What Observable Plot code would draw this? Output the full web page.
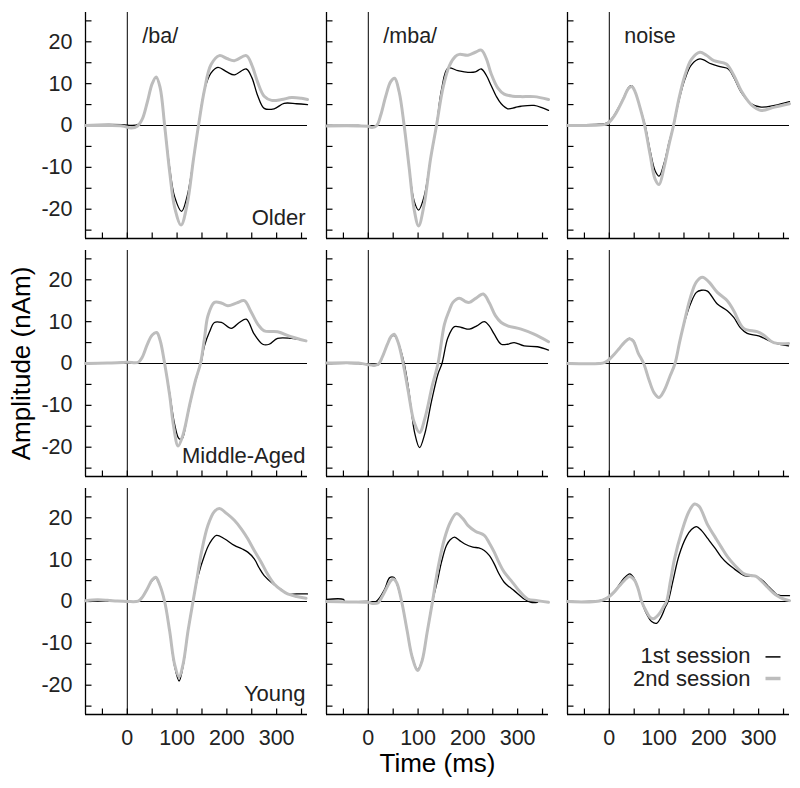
<!DOCTYPE html>
<html><head><meta charset="utf-8">
<script src="https://cdn.jsdelivr.net/npm/d3@7"></script>
<script src="https://cdn.jsdelivr.net/npm/@observablehq/plot@0.6"></script>
<style>body{margin:0;background:#fff} svg{display:block}</style>
</head><body><div id="chart"></div>
<script>
// ---- categories, ticks ----
const stimuli = ["/ba/", "/mba/", "noise"];
const groups = ["Older", "Middle-Aged", "Young"];
const sessions = ["1st session", "2nd session"];
const xDomain = [-84, 362];
const yDomain = [-27, 27];
const xTicks = [-50, 0, 50, 100, 150, 200, 250, 300, 350];
const yTicks = [-25, -20, -15, -10, -5, 0, 5, 10, 15, 20, 25];
const xLabels = [0, 100, 200, 300];
const yLabels = [-20, -10, 0, 10, 20];

// ---- series values: [time (ms), amplitude (nAm)] ----
const baOlder1 = [[-84,0.2],[-10,0.2],[10,0],[22,0.3],[30,1.5],[40,5.5],[50,10],[58,11.5],[66,9],[75,0],[85,-10],[95,-17],[109,-20.5],[120,-17],[133,-8],[143,0],[155,8.5],[168,12.5],[182,13.9],[200,12.8],[215,12.1],[239,13.5],[250,11.5],[262,7.1],[275,4.1],[295,4],[315,5.3],[340,5.2],[362,5]];
const baOlder2 = [[-84,0],[-40,0],[-10,-0.1],[8,-0.6],[20,-0.2],[30,1.5],[40,5.5],[50,10],[58,11.6],[66,9],[75,0],[85,-11],[95,-19.5],[108,-23.8],[120,-19],[133,-8],[143,0],[155,8.5],[168,14.5],[185,16.7],[200,16],[215,15.5],[239,16.7],[250,14.5],[262,10.3],[275,7],[290,6],[310,6.2],[330,6.7],[350,6.5],[362,6.2]];
const mbaOlder1 = [[-84,0],[-20,0],[0,-0.1],[8,-0.4],[17,0],[25,2.5],[35,7],[45,10.5],[53,11.3],[62,8],[72,0],[82,-10],[92,-18],[101,-20.2],[112,-17],[125,-8],[137,0],[147,8.5],[160,13.7],[180,13.1],[200,12.7],[215,12.8],[227,13.5],[237,12],[247,9.5],[257,7],[267,5.2],[280,4],[295,4.3],[307,4.6],[333,4.8],[350,4.2],[362,3.6]];
const mbaOlder2 = [[-84,-0.1],[-20,-0.1],[0,-0.2],[8,-0.5],[17,0],[25,2.5],[35,7],[45,10.5],[53,11.3],[62,8],[72,0],[82,-10],[92,-20],[101,-24],[112,-19],[125,-8],[137,0],[150,9],[163,14.3],[175,16.5],[183,17],[200,16.8],[215,17.5],[227,18],[237,16],[247,12.3],[260,9],[273,7.5],[290,7],[307,6.9],[333,6.9],[362,6.2]];
const noiseOlder1 = [[-84,0.2],[-20,0.3],[-5,0.6],[0,1],[10,2.5],[20,4.6],[30,7],[38,9],[45,9.5],[52,8],[60,5],[72,0],[82,-6],[92,-10.8],[100,-12.1],[110,-9],[120,-4],[129,0],[140,6],[152,11.1],[165,14.5],[182,15.9],[205,14.7],[225,14],[239,13.5],[250,11.5],[265,7.9],[285,5.2],[305,4.4],[332,4.8],[362,5.7]];
const noiseOlder2 = [[-84,0],[-20,0.1],[-5,0.4],[0,0.8],[10,2.3],[20,4.4],[30,6.8],[38,8.8],[45,9.3],[52,8],[60,5],[71,0],[82,-7],[92,-12.8],[100,-14.1],[110,-10],[120,-4.5],[129,0],[140,6.5],[152,12],[165,15.8],[182,17.5],[195,16.8],[210,15.5],[235,14.7],[250,12],[265,8.3],[285,5],[305,3.6],[332,4.4],[362,5.2]];
const baMiddle1 = [[-84,0],[-40,0.1],[0,0.3],[22,0.3],[30,1.5],[40,4.5],[50,6.8],[59,7.4],[66,5.5],[75,0],[85,-7],[95,-14.5],[104,-18],[110,-18],[120,-13],[133,-6],[145,-1],[149,0.6],[155,4.2],[165,7.5],[175,9.8],[189,9.8],[209,8.4],[225,9.8],[239,10.6],[255,7],[272,4.6],[285,4.6],[302,6],[329,6],[359,5.4]];
const baMiddle2 = [[-84,0],[-40,0.1],[0,0.3],[22,0.3],[30,1.5],[40,4.5],[50,6.8],[59,7.4],[66,5.5],[75,0],[85,-7.5],[93,-15],[102,-19.7],[112,-17],[125,-10],[137,-4],[147,0],[155,6],[162,11.4],[175,14.6],[190,14.4],[202,13.8],[220,14.5],[235,15],[248,12.5],[262,9.4],[275,7.8],[302,7.6],[329,6.4],[359,5.4]];
const mbaMiddle1 = [[-84,0],[-20,0],[0,-0.3],[10,-0.5],[20,-0.3],[28,1.5],[38,4.5],[46,6.3],[52,6.7],[60,5],[72,0],[82,-7],[93,-16.5],[103,-20.1],[113,-17],[127,-9],[140,-2.5],[148,0],[160,6.2],[173,8.8],[187,8.6],[203,8.2],[218,9],[233,10],[243,9],[253,7],[267,4.6],[280,4.6],[293,5],[313,4.2],[340,4],[362,3.2]];
const mbaMiddle2 = [[-84,0.1],[-20,0.1],[0,-0.3],[10,-0.4],[20,-0.2],[28,1.5],[38,4.5],[46,6.5],[52,7],[60,5],[70,0],[80,-6.5],[92,-14],[103,-16.5],[115,-12.5],[128,-5.5],[140,0],[153,9.4],[162,12.5],[170,14.6],[183,15.6],[195,14.8],[203,14.6],[215,15.5],[231,16.6],[243,14.5],[255,11.5],[267,9.8],[280,9],[307,8.2],[333,7],[362,5.2]];
const noiseMiddle1 = [[-84,0],[-20,0],[-10,0.2],[0,1],[10,2.2],[20,3.6],[30,5],[40,6],[48,5.5],[58,2.5],[69,0],[80,-4],[90,-7],[100,-8.1],[110,-6.5],[122,-3],[132,0],[141,5],[150,9.4],[163,14.2],[175,17],[185,17.5],[197,17.3],[217,14.2],[237,12.6],[250,11],[263,8.6],[277,7.2],[300,6.6],[330,5],[360,4.2]];
const noiseMiddle2 = [[-84,0],[-20,0],[-10,0.2],[0,1],[10,2.2],[20,3.6],[30,5],[40,5.9],[48,5.4],[58,2.5],[69,0],[80,-4],[90,-7],[100,-8.1],[110,-6.5],[122,-3],[132,0],[141,5],[150,9.6],[163,15.8],[175,19.5],[187,20.6],[200,19.5],[217,17],[237,15],[250,12.6],[270,8.4],[297,7.6],[310,6.8],[330,5],[360,4.8]];
const baYoung1 = [[-84,0.2],[-60,0.4],[-40,0.3],[-20,0.1],[0,0],[22,0.1],[30,1],[40,3],[50,5],[57,5.6],[65,4],[75,0],[85,-7],[95,-15.5],[104,-19],[112,-15.5],[122,-7],[132,0],[142,6],[155,11],[165,13.8],[179,15.8],[195,15],[215,13.4],[230,12.6],[242,11.8],[255,10.2],[265,8],[275,6.2],[295,4],[310,2.8],[322,1.8],[340,1.8],[362,1.8]];
const baYoung2 = [[-84,0.2],[-60,0.4],[-40,0.3],[-20,0.1],[0,0],[22,0.1],[30,1],[40,3],[50,5.2],[57,5.8],[65,4],[75,0],[85,-7],[95,-15],[104,-18],[112,-15],[122,-7],[132,0],[140,5.5],[149,11.8],[162,18.2],[175,21.5],[185,22.2],[200,21],[215,19.4],[230,17.2],[242,15],[255,12.2],[269,9.4],[282,6.5],[295,4.2],[310,2.7],[322,1.8],[340,1.2],[359,0.8]];
const mbaYoung1 = [[-84,0.5],[-50,0.5],[-47,0],[0,0],[5,-0.3],[13,-0.2],[20,0.5],[33,3],[43,5.7],[52,5.7],[58,4],[67,0],[78,-7],[88,-13],[99,-16.3],[108,-14],[118,-7.5],[129,0],[139,5],[147,9.4],[157,13.4],[165,14.8],[173,15.4],[183,14.6],[193,13.8],[210,13],[222,12.8],[233,12.2],[243,11],[253,9],[263,6.5],[273,4.6],[283,3.5],[293,2.6],[313,0.6],[327,-0.2],[340,-0.2]];
const mbaYoung2 = [[-84,0],[-40,-0.1],[0,-0.2],[10,-0.5],[20,-0.3],[27,1],[35,2.8],[43,4.6],[50,5.4],[57,4.5],[67,0],[78,-7],[88,-13.2],[99,-16.5],[108,-14.2],[118,-7.5],[129,0],[140,8],[153,15],[165,19],[177,21],[190,19.8],[200,18.2],[215,16.8],[233,15.8],[243,14],[253,11.8],[263,9.2],[273,7],[287,5],[300,3],[320,0.6],[340,0.2],[362,-0.2]];
const noiseYoung1 = [[-84,0],[-40,0],[-20,0.2],[-10,0.6],[0,1.2],[10,2.4],[20,4],[30,5.6],[41,6.6],[50,5.5],[58,3],[65,0],[75,-3],[85,-4.8],[95,-5.2],[105,-3.5],[112,-1.5],[118,0],[128,5],[140,11],[155,15.5],[165,17.2],[175,17.9],[185,17],[198,15],[212,12.8],[225,10.6],[238,9],[251,7.8],[271,6.2],[285,6],[295,6],[308,5],[318,3.8],[330,2.4],[338,1.6],[362,1.4]];
const noiseYoung2 = [[-84,0],[-40,-0.1],[-20,0.1],[-10,0.5],[0,1.2],[10,2.3],[20,3.7],[30,5],[41,6],[50,5.2],[58,3],[65,0],[75,-2.5],[82,-3.8],[89,-4.1],[100,-3],[110,-1],[115,0],[123,5],[131,10.2],[145,16.5],[160,21.5],[171,23.3],[180,22.8],[198,18.2],[212,15.5],[225,13],[238,10.6],[251,8.8],[271,6.6],[285,6.2],[295,6],[308,4.6],[318,3.4],[330,2],[338,1.3],[350,0.6],[362,0.2]];

// ---- table for the library ----
const seriesList = [
  ["/ba/","Older",baOlder1,baOlder2],
  ["/mba/","Older",mbaOlder1,mbaOlder2],
  ["noise","Older",noiseOlder1,noiseOlder2],
  ["/ba/","Middle-Aged",baMiddle1,baMiddle2],
  ["/mba/","Middle-Aged",mbaMiddle1,mbaMiddle2],
  ["noise","Middle-Aged",noiseMiddle1,noiseMiddle2],
  ["/ba/","Young",baYoung1,baYoung2],
  ["/mba/","Young",mbaYoung1,mbaYoung2],
  ["noise","Young",noiseYoung1,noiseYoung2]
];
const rows = [];
for (const [stim, group, s1, s2] of seriesList) {
  [s1, s2].forEach((pts, k) => {
    for (const [t, v] of pts) rows.push({stim, group, session: sessions[k], key: stim + group + k, t, v});
  });
}
const first = rows.filter(d => d.session === sessions[0]);
const second = rows.filter(d => d.session === sessions[1]);
const topLabels = stimuli.map(s => ({stim: s, group: groups[0]}));
const rowLabels = groups.map(g => ({stim: stimuli[0], group: g}));
const legendCell = {stim: stimuli[2], group: groups[2]};

const font = "'Liberation Sans', Arial, Helvetica, sans-serif";
const gray = "#bdbdbd";
// plain straight-line shape for vector marks (no arrowhead)
const stick = {draw(context, l) { context.moveTo(0, 0); context.lineTo(0, -l); }};

const chart = Plot.plot({
  width: 800, height: 788,
  marginLeft: 84, marginRight: 11, marginTop: 10.5, marginBottom: 73.7,
  style: {fontFamily: font, background: "#fff", overflow: "visible", color: "#000"},
  fx: {domain: stimuli, paddingInner: 0.08, paddingOuter: 0, axis: null},
  fy: {domain: groups, paddingInner: 0.052, paddingOuter: 0, axis: null},
  x: {domain: xDomain},
  y: {domain: yDomain},
  marks: [
    // frame lines (left & bottom)
    Plot.ruleX([xDomain[0]], {stroke: "#000", strokeWidth: 1.3}),
    Plot.ruleY([yDomain[0]], {stroke: "#000", strokeWidth: 1.3}),
    // zero lines
    Plot.ruleY([0], {stroke: "#000", strokeWidth: 1}),
    Plot.ruleX([0], {stroke: "#000", strokeWidth: 1}),
    // inward ticks
    Plot.vector(xTicks, {x: d => d, frameAnchor: "bottom", length: 6, anchor: "start", rotate: 0, shape: stick, stroke: "#000", strokeWidth: 1.2, strokeLinecap: "butt"}),
    Plot.vector(yTicks, {y: d => d, frameAnchor: "left", length: 6, anchor: "start", rotate: 90, shape: stick, stroke: "#000", strokeWidth: 1.2, strokeLinecap: "butt"}),
    // tick labels
    Plot.axisY({ticks: yLabels, tickSize: 0, tickPadding: 13, fontSize: 21.5, tickFormat: d => String(d), label: null, fill: "#222"}),
    Plot.axisX({ticks: xLabels, tickSize: 0, tickPadding: 15, fontSize: 21.5, tickFormat: d => String(d), label: null, fill: "#222"}),
    // curves
    Plot.line(first, {x: "t", y: "v", fx: "stim", fy: "group", z: "key", stroke: "#000", strokeWidth: 1.3, curve: "catmull-rom"}),
    Plot.line(second, {x: "t", y: "v", fx: "stim", fy: "group", z: "key", stroke: gray, strokeWidth: 3, curve: "catmull-rom"}),
    // panel labels
    Plot.text(topLabels, {fx: "stim", fy: "group", x: d => 0, text: "stim", frameAnchor: "top", textAnchor: "start", lineAnchor: "top", dx: 15, dy: 15, fontSize: 21.5, fill: "#222"}),
    Plot.text(rowLabels, {fx: "stim", fy: "group", text: "group", frameAnchor: "bottom-right", textAnchor: "end", lineAnchor: "bottom", dx: -2, dy: -14, fontSize: 22, fill: "#222"}),
    // legend
    Plot.text([{...legendCell, label: sessions[0]}], {fx: "stim", fy: "group", text: "label", frameAnchor: "bottom-right", textAnchor: "end", lineAnchor: "bottom", dx: -39, dy: -52, fontSize: 22, fill: "#222"}),
    Plot.text([{...legendCell, label: sessions[1]}], {fx: "stim", fy: "group", text: "label", frameAnchor: "bottom-right", textAnchor: "end", lineAnchor: "bottom", dx: -39, dy: -29, fontSize: 22, fill: "#222"}),
    Plot.vector([legendCell], {fx: "stim", fy: "group", frameAnchor: "bottom-right", rotate: 90, length: 15, anchor: "start", shape: stick, dx: -24, dy: -57.6, stroke: "#000", strokeWidth: 1.5, strokeLinecap: "butt"}),
    Plot.vector([legendCell], {fx: "stim", fy: "group", frameAnchor: "bottom-right", rotate: 90, length: 15, anchor: "start", shape: stick, dx: -24, dy: -36, stroke: gray, strokeWidth: 3.5, strokeLinecap: "butt"}),
    // axis titles
    Plot.text([{stim: stimuli[1], group: groups[2]}], {fx: "stim", fy: "group", text: () => "Time (ms)", frameAnchor: "bottom", textAnchor: "middle", lineAnchor: "top", dy: 39, fontSize: 26, fill: "#000"}),
    Plot.text([{stim: stimuli[0], group: groups[1]}], {fx: "stim", fy: "group", text: () => "Amplitude (nAm)", frameAnchor: "left", textAnchor: "middle", lineAnchor: "middle", rotate: -90, dx: -64, fontSize: 26, fill: "#000"})
  ]
});
document.getElementById("chart").appendChild(chart);
</script>
</body></html>
